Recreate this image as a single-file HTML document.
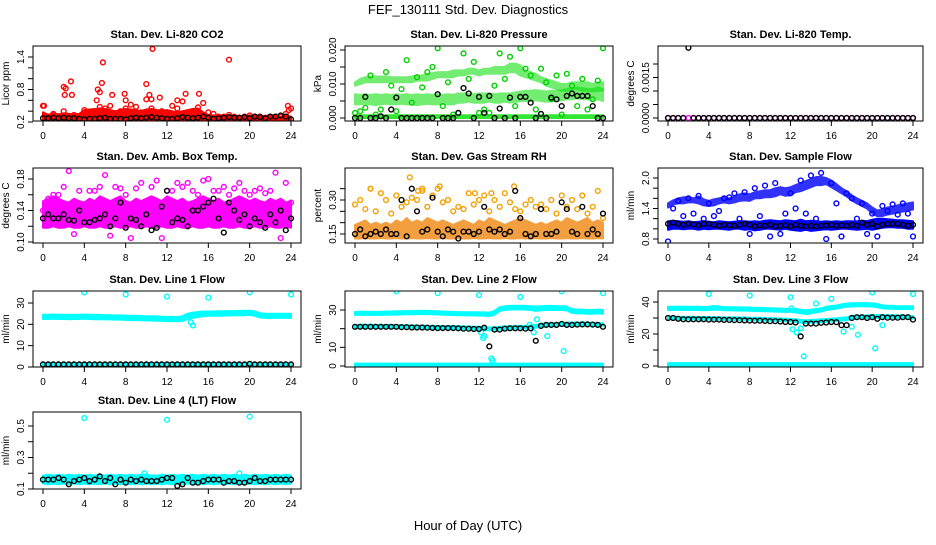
<!DOCTYPE html>
<html><head><meta charset="utf-8"><style>
html,body{margin:0;padding:0;background:#fff;}
svg text{font-family:"Liberation Sans",Arial,sans-serif;fill:#000;}
</style></head><body>
<svg id="chart" width="936" height="540" viewBox="0 0 936 540" xmlns="http://www.w3.org/2000/svg">
<text x="468" y="14" text-anchor="middle" font-size="13">FEF_130111  Std. Dev. Diagnostics</text>
<text x="468" y="530" text-anchor="middle" font-size="13">Hour of Day (UTC)</text>
</svg>
<script>
const hours=[0,0.5,1,1.5,2,2.5,3,3.5,4,4.5,5,5.5,6,6.5,7,7.5,8,8.5,9,9.5,10,10.5,11,11.5,12,12.5,13,13.5,14,14.5,15,15.5,16,16.5,17,17.5,18,18.5,19,19.5,20,20.5,21,21.5,22,22.5,23,23.5,24];
const xTicks=[0,4,8,12,16,20,24];

// P1 CO2
const co2Lo=[0.2,0.21,0.2,0.2,0.21,0.2,0.2,0.21,0.2,0.2,0.21,0.2,0.2,0.2,0.21,0.2,0.2,0.2,0.21,0.2,0.2,0.2,0.21,0.2,0.2,0.2,0.21,0.2,0.2,0.2,0.21,0.2,0.2,0.2,0.21,0.2,0.2,0.2,0.21,0.2,0.2,0.2,0.21,0.2,0.2,0.2,0.21,0.2,0.2];
const co2Hi=[0.38,0.33,0.36,0.34,0.36,0.35,0.34,0.35,0.42,0.43,0.44,0.45,0.44,0.42,0.4,0.42,0.44,0.43,0.42,0.4,0.43,0.44,0.42,0.41,0.42,0.4,0.38,0.4,0.42,0.44,0.45,0.38,0.33,0.32,0.32,0.31,0.32,0.31,0.3,0.31,0.32,0.31,0.3,0.31,0.32,0.31,0.3,0.32,0.3];
const co2Red=[0.5,0.3,0.35,0.3,0.4,0.3,0.33,0.3,0.42,0.35,0.3,0.48,0.45,0.5,0.35,0.4,0.45,0.52,0.48,0.38,0.62,0.45,0.35,0.4,0.38,0.5,0.45,0.58,0.35,0.4,0.47,0.55,0.38,0.35,0.3,0.3,0.33,0.3,0.28,0.3,0.32,0.3,0.3,0.28,0.3,0.3,0.3,0.35,0.45];
const co2SpikeX=[0.1,2,2.2,2.1,2.7,2.8,5.3,5.5,5.7,5.8,5.2,6.7,7.9,8,10,10.3,10.6,10.5,11.3,13,13.8,15.1,18,23.7,23.8];
const co2SpikeY=[0.5,0.85,0.82,0.7,0.95,0.7,0.8,0.75,0.92,1.3,0.6,0.7,0.72,0.6,0.9,0.7,1.55,0.62,0.65,0.6,0.72,0.72,1.35,0.5,0.42];
const co2Black=[0.27,0.27,0.28,0.27,0.28,0.27,0.27,0.26,0.25,0.26,0.26,0.27,0.28,0.26,0.26,0.26,0.25,0.27,0.28,0.27,0.28,0.29,0.28,0.27,0.26,0.26,0.27,0.29,0.28,0.27,0.28,0.3,0.28,0.26,0.27,0.28,0.29,0.28,0.28,0.29,0.27,0.3,0.29,0.27,0.3,0.3,0.32,0.3,0.25];

// P2 Pressure
const presZeroLo=[0,0,0,0,0,0,0,0,0,0,0,0,0,0,0,0,0,0,0,0,0,0,0,0,0,0,0,0,0,0,0,0,0,0,0,0,0,0,0,0,0,0,0,0,0,0,0,0,0];
const presZeroHi=[0.0008,0.0008,0.0008,0.0008,0.0008,0.0008,0.0008,0.0008,0.0008,0.0008,0.0008,0.0008,0.0008,0.0008,0.0008,0.0008,0.0008,0.0008,0.0008,0.0008,0.0008,0.0008,0.0008,0.0008,0.0008,0.0008,0.0008,0.0008,0.0008,0.0008,0.0008,0.0008,0.0008,0.0008,0.0008,0.0008,0.0008,0.0008,0.0008,0.0008,0.0008,0.0008,0.0008,0.0008,0.0008,0.0008,0.0008,0.0008,0.0008];
const presMidLo=[0.004,0.004,0.0042,0.004,0.0038,0.004,0.0042,0.004,0.004,0.0042,0.004,0.004,0.0038,0.004,0.0042,0.004,0.004,0.0042,0.004,0.004,0.0045,0.0045,0.0048,0.0045,0.0045,0.0045,0.0048,0.0045,0.0045,0.0048,0.0045,0.0048,0.005,0.005,0.005,0.0052,0.005,0.0048,0.005,0.005,0.0052,0.0055,0.0055,0.0058,0.0055,0.0055,0.0052,0.0055,0.005];
const presMidHi=[0.007,0.0068,0.007,0.0068,0.007,0.0068,0.007,0.0068,0.007,0.0068,0.007,0.0068,0.007,0.0068,0.007,0.0068,0.007,0.0068,0.007,0.0068,0.0072,0.0072,0.0072,0.007,0.0072,0.0072,0.0072,0.007,0.0072,0.0072,0.0072,0.0075,0.0078,0.008,0.008,0.0082,0.008,0.0078,0.008,0.008,0.0082,0.0085,0.0088,0.009,0.0088,0.0085,0.0085,0.009,0.0085];
const presTopLo=[0.0095,0.01,0.0105,0.0105,0.0105,0.0105,0.0105,0.0105,0.0105,0.0105,0.0105,0.0105,0.011,0.011,0.011,0.0115,0.012,0.012,0.012,0.012,0.0125,0.0125,0.013,0.013,0.0125,0.013,0.013,0.013,0.013,0.013,0.0135,0.0135,0.0125,0.012,0.0115,0.011,0.0105,0.0095,0.009,0.0085,0.008,0.008,0.0085,0.0085,0.008,0.008,0.0078,0.008,0.008];
const presTopHi=[0.0105,0.0115,0.012,0.0122,0.0122,0.0122,0.0122,0.012,0.012,0.012,0.012,0.0122,0.0125,0.0125,0.013,0.0132,0.0135,0.0135,0.0135,0.014,0.014,0.014,0.0145,0.0145,0.014,0.0145,0.0145,0.015,0.015,0.015,0.016,0.016,0.0155,0.014,0.0135,0.013,0.012,0.0115,0.011,0.0105,0.01,0.01,0.0105,0.0105,0.0105,0.0105,0.01,0.0105,0.0105];
const presGreen=[0.0015,0.002,0.003,0.0125,0.001,0.0025,0.0135,0.0095,0.002,0.0085,0.017,0.0045,0.012,0.009,0.0135,0.015,0.0205,0.0035,0.0105,0.001,0.0015,0.019,0.0115,0.0165,0.0015,0.0025,0.0015,0.0095,0.019,0.0115,0.018,0.0035,0.0205,0.0145,0.0125,0.0025,0.0145,0.0105,0.0055,0.0125,0.001,0.013,0.0095,0.0035,0.0115,0.0025,0.0055,0.011,0.0205];
const presBlack=[0,0,0.0062,0,0,0.0005,0,0.0025,0.006,0,0,0,0,0,0,0,0.007,0,0,0,0.0015,0.0088,0.0072,0,0.0062,0.0015,0.0065,0,0.0028,0,0.006,0,0.0062,0.0062,0.0045,0,0.0012,0,0.006,0.0055,0.0035,0.0065,0.0072,0.0065,0.0065,0.0065,0.0035,0,0];

// P3 Temp
const tempMag=[0,0,0,0,0,0,0,0,0,0,0,0,0,0,0,0,0,0,0,0,0,0,0,0,0,0,0,0,0,0,0,0,0,0,0,0,0,0,0,0,0,0,0,0,0,0,0,0,0];
const tempBlack=[0,0,0,0,0.0026,0,0,0,0,0,0,0,0,0,0,0,0,0,0,0,0,0,0,0,0,0,0,0,0,0,0,0,0,0,0,0,0,0,0,0,0,0,0,0,0,0,0,0,0];

// P4 Amb box temp
const ambLo=[0.118,0.118,0.12,0.118,0.118,0.12,0.118,0.118,0.12,0.118,0.118,0.12,0.118,0.118,0.12,0.118,0.118,0.12,0.118,0.118,0.12,0.118,0.118,0.12,0.118,0.118,0.12,0.118,0.118,0.12,0.118,0.118,0.12,0.118,0.118,0.12,0.118,0.118,0.12,0.118,0.118,0.12,0.118,0.118,0.12,0.118,0.118,0.12,0.118];
const ambHi=[0.152,0.155,0.158,0.155,0.152,0.15,0.155,0.152,0.15,0.155,0.152,0.158,0.155,0.152,0.155,0.158,0.152,0.15,0.155,0.152,0.155,0.158,0.155,0.152,0.158,0.155,0.152,0.155,0.15,0.152,0.155,0.158,0.155,0.152,0.155,0.15,0.152,0.155,0.158,0.155,0.152,0.155,0.152,0.15,0.155,0.152,0.155,0.15,0.152];
const ambMag=[0.14,0.155,0.16,0.16,0.17,0.19,0.11,0.165,0.145,0.165,0.165,0.17,0.185,0.108,0.17,0.168,0.16,0.105,0.168,0.175,0.15,0.17,0.178,0.105,0.165,0.165,0.175,0.17,0.175,0.165,0.16,0.178,0.18,0.165,0.165,0.17,0.16,0.168,0.175,0.165,0.16,0.165,0.168,0.162,0.165,0.188,0.105,0.175,0.15];
const ambBlack=[0.13,0.135,0.13,0.13,0.135,0.128,0.127,0.14,0.125,0.125,0.128,0.13,0.135,0.12,0.13,0.15,0.118,0.13,0.128,0.12,0.135,0.115,0.118,0.145,0.165,0.125,0.13,0.128,0.12,0.14,0.14,0.145,0.15,0.155,0.13,0.112,0.15,0.14,0.128,0.135,0.12,0.13,0.125,0.118,0.135,0.125,0.14,0.115,0.13];

// P5 RH
const rhLo=[0.13,0.13,0.132,0.13,0.13,0.132,0.13,0.13,0.132,0.13,0.13,0.132,0.13,0.13,0.132,0.13,0.13,0.132,0.13,0.13,0.132,0.13,0.13,0.132,0.13,0.13,0.132,0.13,0.13,0.132,0.13,0.13,0.132,0.13,0.13,0.132,0.13,0.13,0.132,0.13,0.13,0.132,0.13,0.13,0.132,0.13,0.13,0.132,0.13];
const rhHi=[0.19,0.2,0.21,0.19,0.2,0.19,0.2,0.19,0.21,0.2,0.22,0.2,0.21,0.2,0.22,0.21,0.2,0.21,0.2,0.19,0.2,0.21,0.2,0.19,0.21,0.2,0.22,0.21,0.2,0.19,0.2,0.21,0.22,0.21,0.2,0.19,0.2,0.19,0.2,0.21,0.2,0.22,0.21,0.2,0.21,0.22,0.2,0.21,0.2];
const rhOrange=[0.28,0.3,0.26,0.35,0.25,0.33,0.3,0.24,0.32,0.27,0.29,0.31,0.3,0.34,0.27,0.32,0.35,0.29,0.3,0.25,0.27,0.26,0.33,0.28,0.3,0.32,0.25,0.3,0.27,0.33,0.29,0.26,0.25,0.28,0.3,0.27,0.28,0.26,0.3,0.24,0.32,0.27,0.3,0.26,0.32,0.24,0.27,0.34,0.22];
const rhSpikeX=[5.3,6.1,6.5,8.2,1.5,11.6,13.2,15.4];
const rhSpikeY=[0.4,0.34,0.35,0.36,0.35,0.33,0.33,0.36];
const rhBlack=[0.15,0.17,0.14,0.15,0.16,0.15,0.17,0.15,0.15,0.3,0.14,0.35,0.25,0.16,0.17,0.31,0.16,0.14,0.17,0.16,0.13,0.16,0.16,0.15,0.16,0.27,0.17,0.16,0.17,0.15,0.16,0.34,0.22,0.15,0.14,0.15,0.26,0.15,0.15,0.16,0.29,0.26,0.16,0.15,0.27,0.15,0.17,0.15,0.24];

// P6 Sample flow
const sfLowLo=[0.98,1.0,1.0,0.99,1.0,1.0,0.98,1.0,0.99,1.0,1.0,0.99,0.98,1.0,1.0,0.98,0.99,0.97,0.98,1.0,1.0,0.99,0.98,1.0,0.98,0.97,0.96,0.98,0.96,0.97,0.98,0.99,0.98,0.99,1.0,1.0,0.99,0.98,0.99,1.0,0.98,1.0,1.02,1.03,1.03,1.02,1.02,1.0,1.0];
const sfLowHi=[1.15,1.16,1.15,1.14,1.15,1.13,1.14,1.15,1.14,1.13,1.15,1.14,1.13,1.14,1.15,1.15,1.14,1.15,1.14,1.16,1.17,1.16,1.15,1.17,1.16,1.15,1.18,1.15,1.16,1.15,1.14,1.15,1.14,1.15,1.14,1.15,1.15,1.14,1.16,1.15,1.18,1.2,1.2,1.19,1.18,1.17,1.17,1.16,1.15];
const sfUpLo=[1.42,1.48,1.5,1.5,1.52,1.52,1.5,1.46,1.45,1.46,1.5,1.52,1.5,1.52,1.55,1.56,1.55,1.6,1.6,1.62,1.62,1.64,1.68,1.65,1.66,1.72,1.74,1.78,1.82,1.86,1.86,1.88,1.82,1.76,1.7,1.64,1.56,1.5,1.45,1.4,1.3,1.25,1.25,1.28,1.3,1.32,1.34,1.36,1.38];
const sfUpHi=[1.5,1.56,1.6,1.62,1.62,1.6,1.64,1.58,1.55,1.58,1.6,1.62,1.6,1.63,1.68,1.7,1.68,1.72,1.74,1.76,1.76,1.8,1.82,1.8,1.82,1.86,1.9,1.94,1.98,2.02,2.02,2.0,1.95,1.88,1.8,1.74,1.66,1.6,1.55,1.5,1.42,1.36,1.38,1.42,1.44,1.46,1.48,1.5,1.52];
const sfBlue=[0.75,1.4,1.55,1.25,1.6,1.3,1.65,1.2,1.5,1.25,1.35,1.6,1.62,1.7,1.2,1.72,0.9,1.8,1.25,1.85,0.85,1.9,0.9,1.3,1.7,1.4,1.95,1.3,2.05,1.2,2.1,0.8,1.9,1.5,0.85,1.7,1.6,1.2,1.5,0.9,1.3,0.85,1.45,1.35,1.48,1.28,1.5,1.3,0.85];
const sfBlack=[1.1,1.12,1.1,1.08,1.1,1.09,1.07,1.1,1.1,1.08,1.06,1.08,1.07,1.06,1.08,1.1,1.08,1.05,1.07,1.06,1.08,1.05,1.06,1.07,1.05,1.08,1.06,1.05,1.06,1.05,1.06,1.07,1.08,1.06,1.07,1.06,1.08,1.06,1.12,1.08,1.1,1.05,1.08,1.1,1.1,1.1,1.08,1.06,1.08];

// P7 Line 1
const l1Lo=[22.5,22.5,22.6,22.5,22.5,22.4,22.5,22.5,22.6,22.5,22.4,22.4,22.3,22.3,22.2,22.2,22.1,22.0,22.0,21.9,21.8,21.8,21.7,21.6,21.5,21.5,21.4,21.6,22.5,23.0,23.5,23.8,24.0,24.0,24.1,24.1,24.2,24.2,24.3,24.3,24.4,24.0,23.2,23.0,23.0,23.0,23.0,23.0,23.0];
const l1Hi=[24.5,24.5,24.6,24.5,24.5,24.4,24.5,24.5,24.6,24.5,24.4,24.4,24.3,24.3,24.2,24.2,24.1,24.0,24.0,23.9,23.8,23.8,23.7,23.6,23.5,23.5,23.4,23.8,25.0,25.5,25.8,26.0,26.0,26.0,26.1,26.1,26.2,26.2,26.3,26.3,26.4,26.0,25.2,25.0,25.0,25.0,25.0,25.0,25.0];
const l1ZeroLo=[0.5,0.5,0.5,0.5,0.5,0.5,0.5,0.5,0.5,0.5,0.5,0.5,0.5,0.5,0.5,0.5,0.5,0.5,0.5,0.5,0.5,0.5,0.5,0.5,0.5,0.5,0.5,0.5,0.5,0.5,0.5,0.5,0.5,0.5,0.5,0.5,0.5,0.5,0.5,0.5,0.5,0.5,0.5,0.5,0.5,0.5,0.5,0.5,0.5];
const l1ZeroHi=[1.8,1.8,1.8,1.8,1.8,1.8,1.8,1.8,1.8,1.8,1.8,1.8,1.8,1.8,1.8,1.8,1.8,1.8,1.8,1.8,1.8,1.8,1.8,1.8,1.8,1.8,1.8,1.8,1.8,1.8,1.8,1.8,1.8,1.8,1.8,1.8,1.8,1.8,1.8,1.8,1.8,1.8,1.8,1.8,1.8,1.8,1.8,1.8,1.8];
const l1OutX=[4,8,12,16,20,24,14.5,14.3];
const l1OutY=[35,34,33,32.5,35,34,19.5,21];
const l1Black=[1.2,1.2,1.2,1.2,1.2,1.2,1.2,1.2,1.2,1.2,1.2,1.2,1.2,1.2,1.2,1.2,1.2,1.2,1.2,1.2,1.2,1.2,1.2,1.2,1.2,1.2,1.2,1.2,1.2,1.2,1.2,1.2,1.2,1.2,1.2,1.2,1.2,1.2,1.2,1.2,1.5,1.2,1.2,1.2,1.2,1.2,1.2,1.2,1.2];

// P8 Line 2
const l2TopLo=[27.3,27.4,27.4,27.4,27.3,27.4,27.5,27.5,27.6,27.6,27.7,27.7,27.8,27.8,27.8,27.7,27.6,27.5,27.4,27.3,27.2,27.2,27.1,27.1,27.0,27.0,26.8,27.5,29.5,30.0,30.2,30.3,30.3,30.2,30.0,29.5,29.8,30.0,30.0,30.0,30.0,29.8,28.5,28.2,28.2,28.0,28.0,28.2,28.0];
const l2TopHi=[29.0,29.1,29.1,29.1,29.0,29.1,29.2,29.2,29.3,29.3,29.4,29.4,29.5,29.5,29.5,29.4,29.3,29.2,29.1,29.0,28.9,28.9,28.8,28.8,28.7,28.7,28.6,29.5,31.5,32.0,32.2,32.3,32.3,32.2,32.0,31.8,32.0,32.2,32.2,32.0,32.0,31.8,30.5,30.2,30.2,30.0,30.0,30.2,30.0];
const l2MidLo=[20.5,20.6,20.6,20.6,20.5,20.5,20.5,20.4,20.4,20.3,20.3,20.2,20.2,20.1,20.1,20.0,20.0,19.9,19.9,19.8,19.8,19.7,19.6,19.5,19.4,19.2,19.2,19.3,19.5,19.6,19.8,19.9,20.0,20.0,20.2,20.5,21.0,21.3,21.4,21.5,21.6,21.6,21.8,21.8,21.8,21.7,21.6,21.5,21.5];
const l2MidHi=[22.0,22.1,22.1,22.1,22.0,22.0,22.0,21.9,21.9,21.8,21.8,21.7,21.7,21.6,21.6,21.5,21.5,21.4,21.4,21.3,21.3,21.2,21.1,21.0,21.0,20.8,20.6,20.8,21.0,21.2,21.3,21.4,21.5,21.5,21.7,22.0,22.6,22.8,23.0,23.0,23.2,23.2,23.3,23.3,23.3,23.2,23.1,23.0,23.0];
const l2ZeroHi=[1.3,1.3,1.3,1.3,1.3,1.3,1.3,1.3,1.3,1.3,1.3,1.3,1.3,1.3,1.3,1.3,1.3,1.3,1.3,1.3,1.3,1.3,1.3,1.3,1.3,1.3,1.3,1.3,1.3,1.3,1.3,1.3,1.3,1.3,1.3,1.3,1.3,1.3,1.3,1.3,1.3,1.3,1.3,1.3,1.3,1.3,1.3,1.3,1.3];
const l2OutX=[4,8,12,16,20,24,20.2,13.2,13.3,12.2,12.4,17.3,17.6,18.6,16.9,12.5];
const l2OutY=[40,39,38,37,40,39,8,4,3,18,15,18,25,16,22,16];
const l2Black=[21,21,21,21,21,21,21,21,21,20.8,20.8,20.6,20.6,20.6,20.5,20.4,20.3,20.3,20.3,20.3,20.2,20,20,19.8,19.8,20.5,10.5,19.5,19.5,20,20.2,20.2,20.2,20,20.2,13.5,21.5,22,22,22,22.5,22,22,22.2,22.3,22.3,22.2,22,21];

// P9 Line 3
const l3TopLo=[35.0,35.0,35.1,35.0,35.0,35.0,35.0,34.9,35.0,35.2,35.1,34.9,34.8,34.7,34.6,34.6,34.5,34.4,34.3,34.2,34.1,34.0,33.9,33.8,33.8,33.5,33.0,32.5,33.0,33.5,34.0,35.0,35.5,35.8,36.5,37.0,37.2,37.3,37.3,37.2,37.2,36.8,36.0,35.8,35.8,35.6,35.6,35.6,35.5];
const l3TopHi=[37.0,37.0,37.1,37.0,37.0,37.0,37.0,36.9,37.0,37.5,37.1,36.9,36.8,36.7,36.6,36.6,36.5,36.4,36.3,36.2,36.1,36.0,35.9,35.8,35.8,35.6,35.2,34.8,35.2,35.6,36.0,37.0,37.5,37.8,38.5,39.0,39.2,39.3,39.3,39.2,39.2,38.8,37.8,37.6,37.6,37.4,37.4,37.4,37.3];
const l3MidLo=[29.2,29.2,29.2,29.1,29.1,29.1,29.0,29.0,29.0,28.9,28.9,28.8,28.8,28.8,28.7,28.7,28.6,28.6,28.5,28.4,28.3,28.2,28.1,28.0,27.8,27.5,27.0,26.8,27.0,27.2,27.4,27.6,27.8,28.0,28.4,28.6,29.5,29.6,29.8,29.8,30.0,30.0,30.0,30.0,30.0,30.0,30.0,29.8,29.6];
const l3MidHi=[30.8,30.8,30.8,30.7,30.7,30.7,30.6,30.6,30.6,30.5,30.5,30.4,30.4,30.4,30.3,30.3,30.2,30.2,30.1,30.0,29.9,29.8,29.7,29.6,29.4,29.2,28.8,28.6,28.8,29.0,29.2,29.4,29.6,29.8,30.2,30.4,31.2,31.4,31.5,31.6,31.8,31.8,31.8,31.8,31.8,31.6,31.6,31.4,31.2];
const l3ZeroHi=[1.8,1.8,1.8,1.8,1.8,1.8,1.8,1.8,1.8,1.8,1.8,1.8,1.8,1.8,1.8,1.8,1.8,1.8,1.8,1.8,1.8,1.8,1.8,1.8,1.8,1.8,1.8,1.8,1.8,1.8,1.8,1.8,1.8,1.8,1.8,1.8,1.8,1.8,1.8,1.8,1.8,1.8,1.8,1.8,1.8,1.8,1.8,1.8,1.8];
const l3OutX=[4,8,12,16,20,24,20.3,13.3,14.5,12.2,12.6,17.2,18,18.6,21,13,12.1];
const l3OutY=[45,44,43,42,46,45,11,6,39,23,21,21.5,24.5,19.5,25.5,23.5,36];
const l3Black=[30,30,29.5,29.2,29.2,29.2,29.2,29.2,29,29,29,28.8,28.8,28.7,28.6,28.5,28.4,28.3,28.3,28.2,28,28,27.8,27.5,27.5,27.2,18.5,26.5,26.5,26.5,27,27.2,27.5,27.4,25.5,25.5,30,30.5,30.5,30,30.5,29.5,30.5,30.2,30.2,30.2,30.5,30.5,29];

// P10 Line 4
const l4Lo=[0.135,0.13,0.135,0.13,0.135,0.13,0.135,0.13,0.135,0.13,0.135,0.13,0.135,0.13,0.135,0.13,0.135,0.13,0.135,0.13,0.135,0.13,0.135,0.13,0.135,0.13,0.135,0.13,0.135,0.13,0.135,0.13,0.135,0.13,0.135,0.13,0.135,0.13,0.135,0.13,0.135,0.13,0.135,0.13,0.135,0.13,0.135,0.13,0.135];
const l4Hi=[0.185,0.19,0.185,0.19,0.185,0.19,0.185,0.19,0.185,0.19,0.185,0.19,0.185,0.19,0.185,0.19,0.185,0.19,0.185,0.19,0.19,0.185,0.185,0.19,0.185,0.19,0.185,0.19,0.185,0.19,0.185,0.19,0.185,0.19,0.185,0.19,0.185,0.19,0.185,0.19,0.185,0.19,0.185,0.19,0.185,0.19,0.185,0.19,0.185];
const l4OutX=[4,12,20,9.8,19];
const l4OutY=[0.55,0.54,0.56,0.2,0.2];
const l4Black=[0.16,0.16,0.16,0.17,0.16,0.13,0.15,0.16,0.17,0.15,0.16,0.18,0.15,0.17,0.13,0.16,0.14,0.16,0.15,0.16,0.15,0.15,0.15,0.16,0.17,0.17,0.12,0.13,0.17,0.14,0.14,0.15,0.16,0.16,0.16,0.14,0.15,0.15,0.14,0.14,0.15,0.17,0.15,0.15,0.16,0.16,0.16,0.16,0.16];

const colX=[[43,291],[355,603],[668,913]];
const rowY=[[46,121],[168,243],[291,367],[412,489]];

const panels=[
 {name:'co2',title:'Stan. Dev. Li-820 CO2',ylab:'Licor ppm',col:0,row:0,a:[0.2,122,1.4,57],ticks:[0.2,0.4,0.6,0.8,1.0,1.2,1.4],labels:['0.2','0.8','1.4'],
  bands:[[co2Lo,co2Hi,'#ff0000',1]],pts:[[hours,co2Red,'#ff0000'],[co2SpikeX,co2SpikeY,'#ff0000'],[hours,co2Black,'#000']]},
 {name:'pressure',title:'Stan. Dev. Li-820 Pressure',ylab:'kPa',col:1,row:0,a:[0,118,0.02,50],ticks:[0,0.005,0.01,0.015,0.02],labels:['0.000','0.010','0.020'],
  bands:[[presZeroLo,presZeroHi,'#00e000',0.8],[presMidLo,presMidHi,'#00e000',0.55],[presTopLo,presTopHi,'#00e000',0.55]],pts:[[hours,presGreen,'#00d000'],[hours,presBlack,'#000']]},
 {name:'temp',title:'Stan. Dev. Li-820 Temp.',ylab:'degrees C',col:2,row:0,a:[0,118,0.002,64],ticks:[0,0.0005,0.001,0.0015,0.002],labels:['0.0000','0.0015'],
  bands:[],pts:[[hours,tempMag,'#ff00ff'],[hours,tempBlack,'#000']]},
 {name:'amb-temp',title:'Stan. Dev. Amb. Box Temp.',ylab:'degrees C',col:0,row:1,a:[0.10,242,0.18,179],ticks:[0.10,0.12,0.14,0.16,0.18],labels:['0.10','0.14','0.18'],
  bands:[[ambLo,ambHi,'#ff00ff',1]],pts:[[hours,ambMag,'#ff00ff'],[hours,ambBlack,'#000']]},
 {name:'rh',title:'Stan. Dev. Gas Stream RH',ylab:'percent',col:1,row:1,a:[0.15,234,0.30,200],ticks:[0.15,0.2,0.25,0.3,0.35],labels:['0.15','0.30'],
  bands:[[rhLo,rhHi,'#f08000',0.75]],pts:[[hours,rhOrange,'#f5a000'],[rhSpikeX,rhSpikeY,'#f5a000'],[hours,rhBlack,'#000']]},
 {name:'sample-flow',title:'Stan. Dev. Sample Flow',ylab:'ml/min',col:2,row:1,a:[0.8,239,2.0,178],ticks:[0.8,1.0,1.2,1.4,1.6,1.8,2.0],labels:['0.8','1.4','2.0'],
  bands:[[sfLowLo,sfLowHi,'#0000ff',1],[sfUpLo,sfUpHi,'#0000ff',0.8]],pts:[[hours,sfBlue,'#0000ff'],[hours,sfBlack,'#000']]},
 {name:'line1',title:'Stan. Dev. Line 1 Flow',ylab:'ml/min',col:0,row:2,a:[0,367,30,303],ticks:[0,10,20,30],labels:['0','10','20','30'],
  bands:[[l1Lo,l1Hi,'#00ffff',1],[l1ZeroLo,l1ZeroHi,'#00ffff',1]],pts:[[l1OutX,l1OutY,'#00ffff'],[hours,l1Black,'#000']]},
 {name:'line2',title:'Stan. Dev. Line 2 Flow',ylab:'ml/min',col:1,row:2,a:[0,366,30,310],ticks:[0,10,20,30],labels:['0','10','30'],
  bands:[[l2TopLo,l2TopHi,'#00ffff',1],[l2MidLo,l2MidHi,'#00ffff',1],[presZeroLo,l2ZeroHi,'#00ffff',1]],pts:[[l2OutX,l2OutY,'#00ffff'],[hours,l2Black,'#000']]},
 {name:'line3',title:'Stan. Dev. Line 3 Flow',ylab:'ml/min',col:2,row:2,a:[0,366,40,302],ticks:[0,10,20,30,40],labels:['0','20','40'],
  bands:[[l3TopLo,l3TopHi,'#00ffff',1],[l3MidLo,l3MidHi,'#00ffff',1],[presZeroLo,l3ZeroHi,'#00ffff',1]],pts:[[l3OutX,l3OutY,'#00ffff'],[hours,l3Black,'#000']]},
 {name:'line4',title:'Stan. Dev. Line 4 (LT) Flow',ylab:'ml/min',col:0,row:3,a:[0.1,489,0.5,426],ticks:[0.1,0.2,0.3,0.4,0.5],labels:['0.1','0.3','0.5'],
  bands:[[l4Lo,l4Hi,'#00ffff',1]],pts:[[l4OutX,l4OutY,'#00ffff'],[hours,l4Black,'#000']]}
];

const svg=document.getElementById('chart');
const NS='http://www.w3.org/2000/svg';
function mk(tag,attrs,parent){const e=document.createElementNS(NS,tag);for(const k in attrs)e.setAttribute(k,attrs[k]);parent.appendChild(e);return e;}

panels.forEach(p=>{
  const [x0,x24]=colX[p.col];const [top,bot]=rowY[p.row];
  const xs=h=>x0+(x24-x0)*h/24;
  const ys=v=>p.a[1]+(v-p.a[0])*(p.a[3]-p.a[1])/(p.a[2]-p.a[0]);
  const g=mk('g',{},svg);
  
  
  const clipId='clip-'+p.name;
  const cp=mk('clipPath',{id:clipId},g);
  mk('rect',{x:x0-10,y:top,width:(x24-x0)+20,height:bot-top},cp);
  const plot=mk('g',{'clip-path':'url(#'+clipId+')'},g);
  
  
  p.bands.forEach(b=>{
    const lo=b[0],hi=b[1];const n=Math.min(lo.length,hi.length,hours.length);
    let d='';
    for(let i=0;i<n;i++)d+=(i?'L':'M')+xs(hours[i]).toFixed(1)+' '+ys(hi[i]).toFixed(1);
    for(let i=n-1;i>=0;i--)d+='L'+xs(hours[i]).toFixed(1)+' '+ys(lo[i]).toFixed(1);
    d+='Z';
    const path=mk('path',{d:d,fill:b[2],stroke:b[2],'stroke-width':2,'stroke-linejoin':'round',opacity:b[3]},plot);
    
    
  });
  p.pts.forEach(s=>{
    const xv=s[0],yv=s[1];const n=Math.min(xv.length,yv.length);
    for(let i=0;i<n;i++){
      const c=mk('circle',{cx:xs(xv[i]).toFixed(1),cy:ys(yv[i]).toFixed(1),r:2.4,fill:'none',stroke:s[2],'stroke-width':1.4},plot);
      
      
    }
  });
  const box=mk('rect',{x:x0-10,y:top,width:(x24-x0)+20,height:bot-top,fill:'none',stroke:'#000','stroke-width':1},g);
  
  
  const t=mk('text',{x:(x0+x24)/2,y:top-8,'text-anchor':'middle','font-size':11,'font-weight':'bold'},g);
  t.textContent=p.title;
  
  
  xTicks.forEach(h=>{
    const x=xs(h);
    mk('line',{x1:x,x2:x,y1:bot,y2:bot+5,stroke:'#000'},g);
    const tl=mk('text',{x:x,y:bot+18,'text-anchor':'middle','font-size':10},g);
    tl.textContent=String(h);
    
    
  });
  const axX=x0-10;
  p.ticks.forEach(v=>{
    const y=ys(v);
    mk('line',{x1:axX-5,x2:axX,y1:y,y2:y,stroke:'#000'},g);
  });
  p.labels.forEach(l=>{
    const y=ys(parseFloat(l));
    const yl=mk('text',{x:axX-9,y:y,'text-anchor':'middle','font-size':10,transform:'rotate(-90 '+(axX-9)+' '+y+')'},g);
    yl.textContent=l;
    
    
  });
  const ly=(top+bot)/2;
  const yt=mk('text',{x:axX-24,y:ly,'text-anchor':'middle','font-size':10,transform:'rotate(-90 '+(axX-24)+' '+ly+')'},g);
  yt.textContent=p.ylab;
  
  
});
</script>
</body></html>
